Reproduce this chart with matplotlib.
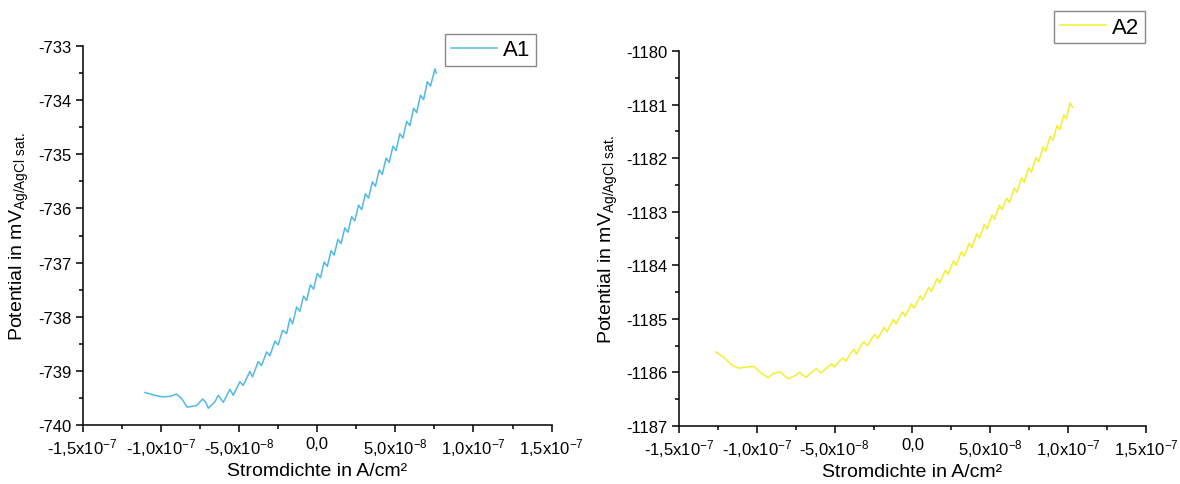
import matplotlib
matplotlib.use("Agg")
import matplotlib.pyplot as plt
import numpy as np

plt.rcParams['font.family'] = ['Liberation Sans', 'DejaVu Sans']
plt.rcParams['mathtext.default'] = 'regular'

# current density in units of 1e-8 A/cm², potential in mV
a1_x = [-11.01, -10.27, -9.84, -9.40, -8.99, -8.67, -8.31, -7.71, -7.32, -7.12,
        -6.96, -6.54, -6.32, -6.00, -5.58, -5.36, -4.94, -4.73, -4.30, -4.13,
        -3.77, -3.55, -3.23, -3.02, -2.70, -2.49, -2.21, -1.95, -1.74, -1.57,
        -1.31, -1.11, -0.87, -0.67, -0.43, -0.23, 0.01, 0.21, 0.45, 0.65,
        0.89, 1.09, 1.33, 1.53, 1.77, 1.97, 2.21, 2.41, 2.65, 2.85,
        3.09, 3.29, 3.53, 3.73, 3.97, 4.17, 4.41, 4.61, 4.85, 5.05,
        5.29, 5.49, 5.73, 5.93, 6.17, 6.37, 6.61, 6.81, 7.05, 7.25,
        7.54, 7.62]
a1_y = [-739.40, -739.46, -739.48, -739.47, -739.43, -739.51, -739.67, -739.64, -739.52, -739.58,
        -739.69, -739.57, -739.45, -739.58, -739.34, -739.45, -739.20, -739.27, -739.01, -739.11,
        -738.83, -738.90, -738.65, -738.72, -738.45, -738.52, -738.25, -738.31, -738.03, -738.13,
        -737.82, -737.90, -737.62, -737.70, -737.41, -737.49, -737.20, -737.28, -736.99, -737.07,
        -736.78, -736.86, -736.57, -736.65, -736.36, -736.44, -736.15, -736.23, -735.94, -736.02,
        -735.73, -735.81, -735.51, -735.59, -735.29, -735.37, -735.07, -735.15, -734.85, -734.93,
        -734.62, -734.70, -734.39, -734.47, -734.15, -734.23, -733.91, -733.99, -733.66, -733.74,
        -733.42, -733.50]

a2_x = [-12.62, -12.15, -11.62, -11.19, -10.65, -10.18, -9.69, -9.26, -8.94, -8.51,
        -7.98, -7.55, -7.27, -6.84, -6.48, -6.16, -5.90, -5.51, -5.19, -5.04,
        -4.66, -4.44, -4.27, -3.97, -3.76, -3.59, -3.27, -3.12, -2.90, -2.56,
        -2.41, -2.24, -1.81, -1.64, -1.22, -1.05, -0.64, -0.47, -0.07, 0.10,
        0.49, 0.66, 1.04, 1.21, 1.58, 1.75, 2.11, 2.28, 2.63, 2.80,
        3.14, 3.31, 3.64, 3.81, 4.13, 4.30, 4.62, 4.79, 5.10, 5.27,
        5.58, 5.75, 6.06, 6.23, 6.53, 6.70, 7.00, 7.17, 7.47, 7.64,
        7.93, 8.10, 8.39, 8.56, 8.84, 9.01, 9.29, 9.46, 9.72, 9.89,
        10.12, 10.27]
a2_y = [-1185.62, -1185.71, -1185.86, -1185.92, -1185.90, -1185.89, -1186.02, -1186.10, -1186.02, -1185.99,
        -1186.12, -1186.06, -1186.00, -1186.09, -1186.00, -1185.93, -1186.01, -1185.92, -1185.84, -1185.90,
        -1185.78, -1185.73, -1185.79, -1185.64, -1185.57, -1185.66, -1185.48, -1185.43, -1185.50, -1185.34,
        -1185.29, -1185.37, -1185.16, -1185.24, -1185.01, -1185.09, -1184.87, -1184.95, -1184.72, -1184.80,
        -1184.57, -1184.65, -1184.41, -1184.49, -1184.25, -1184.33, -1184.09, -1184.17, -1183.92, -1184.00,
        -1183.75, -1183.83, -1183.59, -1183.67, -1183.41, -1183.49, -1183.24, -1183.32, -1183.06, -1183.14,
        -1182.88, -1182.96, -1182.75, -1182.83, -1182.56, -1182.64, -1182.37, -1182.45, -1182.18, -1182.26,
        -1181.99, -1182.07, -1181.79, -1181.87, -1181.59, -1181.67, -1181.39, -1181.47, -1181.19, -1181.27,
        -1180.97, -1181.05]

x_ticks = [-1.5e-7, -1.0e-7, -5.0e-8, 0.0, 5.0e-8, 1.0e-7, 1.5e-7]
x_tick_labels = ['-1,5x10$^{-7}$', '-1,0x10$^{-7}$', '-5,0x10$^{-8}$', '0,0',
                 '5,0x10$^{-8}$', '1,0x10$^{-7}$', '1,5x10$^{-7}$']
a1_yticks = [-740, -739, -738, -737, -736, -735, -734, -733]
a2_yticks = [-1187, -1186, -1185, -1184, -1183, -1182, -1181, -1180]

fig = plt.figure(figsize=(11.8, 4.85), dpi=100)
ax1 = fig.add_axes([0.0700, 0.1216, 0.3975, 0.7815])
ax2 = fig.add_axes([0.5754, 0.1196, 0.3958, 0.7732])


def style_axis(ax, yticks):
    ax.spines['top'].set_visible(False)
    ax.spines['right'].set_visible(False)
    for s in ('left', 'bottom'):
        ax.spines[s].set_linewidth(1.1)
    ax.set_xlim(-1.5e-7, 1.5e-7)
    ax.set_xticks(x_ticks, x_tick_labels)
    ax.set_xticks(np.arange(-1.25e-7, 1.5e-7, 5e-8), minor=True)
    ax.set_ylim(yticks[0], yticks[-1])
    ax.set_yticks(yticks, [str(t) for t in yticks])
    ax.set_yticks(np.arange(yticks[0] + 0.5, yticks[-1], 1.0), minor=True)
    ax.tick_params(which='major', direction='out', length=5, width=1.1, labelsize=12, pad=3)
    ax.tick_params(which='minor', direction='out', length=3, width=1.1)
    ax.set_xlabel('Stromdichte in A/cm²', fontsize=14, labelpad=3)
    ax.set_ylabel('Potential in mV$_{Ag/AgCl\\ sat.}$', fontsize=14, labelpad=5)


ax1.plot(np.array(a1_x) * 1e-8, a1_y, color='#52B9E6', lw=1.1, label='A1')
style_axis(ax1, a1_yticks)
ax2.plot(np.array(a2_x) * 1e-8, a2_y, color='#F3EF2F', lw=1.1, label='A2')
style_axis(ax2, a2_yticks)

for ax, anchor in ((ax1, (0.4542, 0.928)), (ax2, (0.970, 0.975))):
    leg = ax.legend(loc='upper right', bbox_to_anchor=anchor, bbox_transform=fig.transFigure,
                    borderaxespad=0, fancybox=False, fontsize=16, handlelength=2.1,
                    handletextpad=0.25, borderpad=0.25, framealpha=1)
    leg.get_frame().set_edgecolor('#888888')
    leg.get_frame().set_linewidth(1.0)

fig.savefig('out.png', dpi=100)
